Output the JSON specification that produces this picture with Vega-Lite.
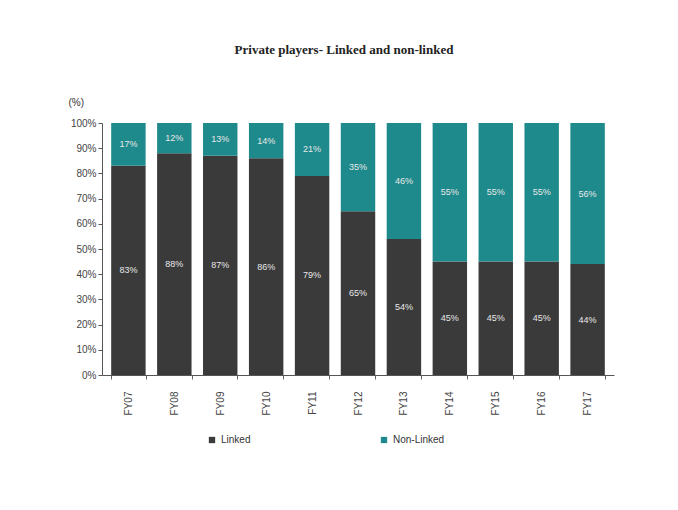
{
  "$schema": "https://vega.github.io/schema/vega-lite/v6.json",
  "width": 512,
  "height": 252,
  "autosize": {"type": "none"},
  "padding": {"left": 102, "top": 123, "right": 64, "bottom": 135},
  "background": "white",
  "title": {
    "text": "Private players- Linked and non-linked",
    "font": "Liberation Serif",
    "fontSize": 13,
    "fontWeight": "bold",
    "color": "#222",
    "anchor": "middle",
    "offset": 40,
    "dx": -14
  },
  "data": {
    "values": [
      {"year": "FY07", "type": "Linked", "value": 83},
      {"year": "FY07", "type": "Non-Linked", "value": 17},
      {"year": "FY08", "type": "Linked", "value": 88},
      {"year": "FY08", "type": "Non-Linked", "value": 12},
      {"year": "FY09", "type": "Linked", "value": 87},
      {"year": "FY09", "type": "Non-Linked", "value": 13},
      {"year": "FY10", "type": "Linked", "value": 86},
      {"year": "FY10", "type": "Non-Linked", "value": 14},
      {"year": "FY11", "type": "Linked", "value": 79},
      {"year": "FY11", "type": "Non-Linked", "value": 21},
      {"year": "FY12", "type": "Linked", "value": 65},
      {"year": "FY12", "type": "Non-Linked", "value": 35},
      {"year": "FY13", "type": "Linked", "value": 54},
      {"year": "FY13", "type": "Non-Linked", "value": 46},
      {"year": "FY14", "type": "Linked", "value": 45},
      {"year": "FY14", "type": "Non-Linked", "value": 55},
      {"year": "FY15", "type": "Linked", "value": 45},
      {"year": "FY15", "type": "Non-Linked", "value": 55},
      {"year": "FY16", "type": "Linked", "value": 45},
      {"year": "FY16", "type": "Non-Linked", "value": 55},
      {"year": "FY17", "type": "Linked", "value": 44},
      {"year": "FY17", "type": "Non-Linked", "value": 56}
    ]
  },
  "transform": [
    {"stack": "value", "groupby": ["year"], "sort": [{"field": "type", "order": "ascending"}], "as": ["v0", "v1"]},
    {"calculate": "(datum.v0 + datum.v1) / 2", "as": "mid"}
  ],
  "encoding": {
    "x": {
      "field": "year",
      "type": "nominal",
      "scale": {"paddingInner": 0.25, "paddingOuter": 0.2},
      "axis": {
        "title": null,
        "labelAngle": 270,
        "labelFont": "Liberation Sans",
        "labelFontSize": 10,
        "labelColor": "#444",
        "labelPadding": 12,
        "tickBand": "extent",
        "tickColor": "#666",
        "domainColor": "#555",
        "tickSize": 4
      }
    }
  },
  "layer": [
    {
      "mark": {"type": "bar"},
      "encoding": {
        "y": {
          "field": "v0",
          "type": "quantitative",
          "scale": {"domain": [0, 100]},
          "axis": {
            "title": "(%)",
            "titleAngle": 0,
            "titleFont": "Liberation Sans",
            "titleFontSize": 10,
            "titleFontWeight": "normal",
            "titleColor": "#333",
            "titleX": -34,
            "titleY": -16,
            "titleAlign": "left",
            "values": [0, 10, 20, 30, 40, 50, 60, 70, 80, 90, 100],
            "labelOverlap": false,
            "labelExpr": "datum.value + '%'",
            "labelFont": "Liberation Sans",
            "labelFontSize": 10,
            "labelColor": "#444",
            "grid": false,
            "domainColor": "#555",
            "tickColor": "#555",
            "tickSize": 4
          }
        },
        "y2": {"field": "v1"},
        "color": {
          "field": "type",
          "type": "nominal",
          "scale": {"domain": ["Linked", "Non-Linked"], "range": ["#3a3a3a", "#1f8a8c"]},
          "legend": {
            "title": null,
            "orient": "none",
            "legendX": 105,
            "legendY": 312,
            "direction": "horizontal",
            "symbolType": "square",
            "symbolSize": 40,
            "labelFont": "Liberation Sans",
            "labelFontSize": 10,
            "labelColor": "#333",
            "columnPadding": 128
          }
        }
      }
    },
    {
      "mark": {"type": "text", "color": "#e8e8e8", "font": "Liberation Sans", "fontSize": 9, "baseline": "middle", "text": {"expr": "datum.value + '%'"}},
      "encoding": {
        "y": {
          "field": "mid",
          "type": "quantitative",
          "axis": {
            "title": "(%)",
            "titleAngle": 0,
            "titleFont": "Liberation Sans",
            "titleFontSize": 10,
            "titleFontWeight": "normal",
            "titleColor": "#333",
            "titleX": -34,
            "titleY": -16,
            "titleAlign": "left",
            "values": [0, 10, 20, 30, 40, 50, 60, 70, 80, 90, 100],
            "labelOverlap": false,
            "labelExpr": "datum.value + '%'",
            "labelFont": "Liberation Sans",
            "labelFontSize": 10,
            "labelColor": "#444",
            "grid": false,
            "domainColor": "#555",
            "tickColor": "#555",
            "tickSize": 4
          }
        },
        "detail": {"field": "type"}
      }
    }
  ],
  "config": {"view": {"stroke": null}}
}
